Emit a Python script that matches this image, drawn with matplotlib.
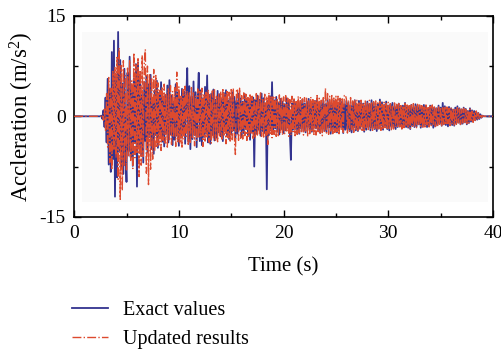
import numpy as np
import matplotlib
matplotlib.use("Agg")
import matplotlib.pyplot as plt
from matplotlib.patches import Rectangle

plt.rcParams['font.family'] = ['Liberation Serif', 'DejaVu Serif']
plt.rcParams['mathtext.fontset'] = 'custom'
plt.rcParams['mathtext.rm'] = 'Liberation Serif'
plt.rcParams['mathtext.default'] = 'regular'

dt = 0.1
exact_values = [
    0,0,0,0,0,0,0,0,0,0,
    0,0,0,0,0,0,0,0,0,0,
    0,0,0,0,0,0,0.1,-0.4,0.9,-1.6,
    2.8,-3.9,5.6,-7.2,4.1,-8.3,9.6,-6.4,11.3,-12.0,
    6.2,-9.1,12.6,-5.3,8.4,-7.7,4.9,-8.6,7.1,-4.8,
    -9.8,6.5,-5.2,8.9,-6.1,3.8,-7.4,5.6,-3.9,7.8,
    -10.5,8.0,-4.6,6.3,-5.8,3.2,-6.9,5.1,-3.7,6.0,
    -5.4,4.8,-3.1,6.2,-4.9,2.7,-5.6,3.9,-2.8,5.3,
    -4.7,3.5,-2.4,5.1,-3.8,2.9,-4.5,3.2,-2.6,4.6,
    -3.9,5.4,-2.7,3.1,-4.3,2.2,-3.5,4.8,-2.9,3.6,
    -4.4,2.8,-3.2,4.1,-2.5,3.7,-4.1,2.6,7.2,-3.8,
    4.5,-4.9,2.9,-3.4,5.2,-2.8,3.6,-4.6,2.4,6.5,
    -3.7,3.9,-4.3,2.7,-3.1,4.4,-2.6,6.1,-3.9,3.2,
    -4.1,3.4,-2.8,4.0,-3.6,2.5,-3.2,3.8,-2.4,3.3,
    -3.0,2.6,-3.7,3.5,-2.2,3.9,-2.9,2.4,-3.4,2.8,
    -2.7,3.6,-2.1,2.9,-3.3,2.3,-2.6,3.4,-2.0,2.7,
    -3.1,2.2,-2.5,3.3,-1.9,2.6,-2.8,2.1,-3.5,2.9,
    -2.3,2.8,-7.5,2.4,-2.6,3.1,-2.0,2.5,-2.9,3.4,
    -2.2,2.7,-2.5,1.9,-10.9,2.3,-2.8,3.0,-2.1,5.1,
    -2.6,2.4,-1.8,2.9,-2.3,2.0,-2.7,2.6,-1.9,2.2,
    -2.5,1.8,-2.1,2.7,-1.7,2.3,-2.4,-6.5,1.9,-2.0,
    2.4,-1.9,2.1,-2.3,1.7,-2.6,2.0,-1.8,2.5,-2.2,
    1.9,-2.4,2.2,-1.6,2.6,-2.0,1.8,-2.3,2.1,-1.7,
    2.3,-1.8,2.7,-2.1,1.6,-2.5,2.0,-1.9,2.4,-2.2,
    1.8,-2.3,2.5,-1.7,2.1,-2.6,1.9,-2.0,2.3,-1.8,
    2.0,-2.4,1.7,-2.1,2.6,-1.6,2.2,-2.5,1.8,-2.0,
    2.3,-1.9,2.0,-2.2,1.6,-2.4,2.1,-1.7,2.4,-2.1,
    1.7,-2.2,2.3,-1.8,2.0,-1.5,1.9,-2.3,1.6,-2.0,
    2.2,-1.6,1.8,-2.1,2.4,-1.7,2.0,-1.9,1.5,-2.2,
    1.9,-1.8,2.5,-1.4,2.1,-2.0,1.7,-1.6,2.2,-1.9,
    1.6,-2.1,1.8,-1.5,2.0,-1.7,1.4,-1.9,1.7,-1.6,
    1.9,-1.4,1.5,-1.8,1.6,-1.3,2.0,-1.6,1.4,-1.7,
    1.5,-1.9,1.7,-1.4,1.3,-1.6,1.8,-1.5,1.6,-1.2,
    1.4,-1.7,1.2,-1.5,1.7,-1.3,1.5,-1.6,1.1,-1.4,
    1.6,-1.2,1.4,-1.7,1.3,-1.5,1.2,-1.3,1.6,-1.1,
    1.3,-1.4,2.0,-1.2,1.5,-1.3,1.1,-1.5,1.4,-1.0,
    1.2,-1.3,1.0,-1.4,1.3,-1.1,1.5,-0.9,1.2,-1.2,
    1.0,-1.1,1.3,-0.9,1.1,-1.2,0.8,-1.0,1.2,-0.8,
    0.9,-0.7,0.8,-0.6,0.7,-0.5,0.5,-0.4,0.3,-0.2,
    0.1,0,0,0,0,0,0,0,0,0,
    0,
]
updated_results = [
    0,0,0,0,0,0,0,0,0,0,
    0,0,0,0,0,0,0,0,0,0,
    0,0,0,0,0,0,0,0.2,-0.6,1.1,
    -2.2,3.4,-4.6,5.8,-6.9,4.2,-8.0,6.7,-5.1,7.3,
    -6.2,8.8,-9.4,10.2,-12.4,7.6,-11.1,8.3,-7.5,6.1,
    -8.0,7.2,-5.9,8.4,-6.6,5.3,-7.8,9.5,-6.2,7.7,
    -5.4,8.6,-9.0,6.9,-7.3,9.1,-6.0,8.2,10.0,-8.5,
    7.5,-10.2,6.3,-7.9,5.8,-6.4,7.0,-5.2,6.1,-4.7,
    5.0,-4.3,3.9,-5.1,4.4,-3.6,4.8,-4.0,3.3,-4.6,
    4.1,-3.5,4.6,-4.2,3.7,-3.1,4.3,-4.5,6.6,-3.8,
    4.4,-4.1,3.2,-4.6,4.0,-3.4,4.5,-3.0,3.8,-4.2,
    3.5,-3.9,4.3,-3.2,3.7,-4.4,3.1,-3.6,4.1,-3.3,
    3.9,-3.0,4.2,-4.5,3.4,-3.7,3.6,-3.1,4.0,-3.9,
    3.2,-4.0,3.8,-3.3,4.1,-3.6,3.0,-3.8,3.5,-3.1,
    3.7,-3.4,4.2,-3.0,3.4,-4.1,3.9,-3.2,3.6,-3.7,
    4.0,-3.5,4.2,-3.1,-5.7,3.8,4.1,-3.6,4.2,-3.3,
    3.1,-3.4,3.5,-2.9,3.3,-3.6,2.8,-3.2,3.4,-2.7,
    3.0,-3.3,2.6,-3.1,3.4,-2.8,3.2,-2.6,3.5,-3.0,
    2.7,-3.1,3.3,-2.9,3.0,-4.2,3.5,-2.6,2.9,-3.2,
    3.1,-2.7,2.8,-3.0,2.6,-2.9,3.2,-2.5,2.7,-2.8,
    2.9,-2.6,3.1,-2.4,2.7,-3.0,2.5,-2.8,3.0,-2.3,
    2.6,-2.9,2.4,-2.7,3.0,-2.5,2.8,-2.3,2.6,-2.8,
    2.8,-2.4,2.7,-3.0,2.3,-2.6,2.9,-2.2,2.5,-2.7,
    2.5,-2.8,3.1,-2.3,2.7,-2.5,2.4,-2.9,2.8,-2.4,
    4.2,-2.5,3.4,-2.7,3.0,-2.2,3.3,-2.6,2.9,-2.4,
    3.0,-2.3,3.0,-2.6,2.7,-2.1,2.8,-2.4,3.1,3.2,
    2.6,-2.5,2.4,-2.2,2.8,-2.0,2.3,-2.4,2.5,-2.1,
    2.4,-2.3,2.2,-2.0,2.6,-2.1,2.0,-2.3,2.3,-1.9,
    2.1,-2.2,2.4,-1.9,2.0,-2.1,2.2,-1.8,2.3,-2.0,
    2.0,-1.9,2.2,-2.1,1.8,-2.0,2.1,-1.7,1.9,-2.0,
    2.1,-1.8,1.9,-2.0,1.7,-1.9,2.0,-1.6,1.8,-1.7,
    1.9,-1.6,1.8,-1.9,1.6,-1.7,1.9,-1.5,1.7,-1.8,
    1.6,-1.8,1.7,-1.5,1.9,-1.6,1.5,-1.7,1.8,-1.4,
    1.7,-1.5,1.6,-1.8,1.4,-1.6,1.7,-1.3,1.5,-1.6,
    1.5,-1.4,1.7,-1.3,1.6,-1.5,1.3,-1.6,1.4,-1.2,
    1.4,-1.5,1.3,-1.2,1.5,-1.3,1.4,-1.1,1.2,-1.4,
    1.3,-1.1,1.2,-1.3,1.0,-1.2,1.3,-1.0,1.1,-1.2,
    1.1,-1.0,1.2,-0.9,1.0,-1.1,0.9,-1.0,1.1,-0.8,
    0.8,-0.9,0.7,-0.6,0.8,-0.5,0.5,-0.4,0.3,-0.2,
    0.1,0,0,0,0,0,0,0,0,0,
    0,
]
x_ticks = [0, 10, 20, 30, 40]
x_tick_labels = ["0", "10", "20", "30", "40"]
y_ticks = [-15, 0, 15]
y_tick_labels = ["-15", "0", "15"]

t = np.arange(len(exact_values)) * dt

fig = plt.figure(figsize=(5.01, 3.53), dpi=100)
ax = fig.add_axes([0.148, 0.386, 0.836, 0.569])

ax.add_patch(Rectangle((0.019, 0.073), 0.968, 0.847, transform=ax.transAxes,
                       facecolor='#fafafa', edgecolor='none', zorder=0))

l1, = ax.plot(t, exact_values, color='#33338f', lw=1.3, zorder=2, label='Exact values')
l2, = ax.plot(t, updated_results, color='#dd4a2e', lw=1.0, ls='-.', zorder=3,
              label='Updated results')

ax.set_xlim(0, 40)
ax.set_ylim(-15, 15)
ax.set_xticks(x_ticks)
ax.set_xticklabels(x_tick_labels)
ax.set_yticks(y_ticks)
ax.set_yticklabels(y_tick_labels)
ax.set_xticks([5, 15, 25, 35], minor=True)
ax.set_yticks([-7.5, 7.5], minor=True)
ax.tick_params(which='both', direction='in', top=True, right=True, labelsize=14, width=1)
ax.tick_params(which='major', length=5, pad=6)
ax.tick_params(which='minor', length=3)
for s in ax.spines.values():
    s.set_linewidth(1.2)

ax.set_xlabel('Time (s)', fontsize=15, labelpad=11)
ax.set_ylabel('Accleration (m/s$^{2}$)', fontsize=16.5, labelpad=0)
ax.yaxis.set_label_coords(-0.09, 0.5)

fig.legend(handles=[l1, l2], loc='lower left', bbox_to_anchor=(0.108, -0.041),
           frameon=False, fontsize=14.5, handlelength=1.8, handletextpad=0.7,
           labelspacing=0.5)

fig.savefig('out.png', dpi=100)
